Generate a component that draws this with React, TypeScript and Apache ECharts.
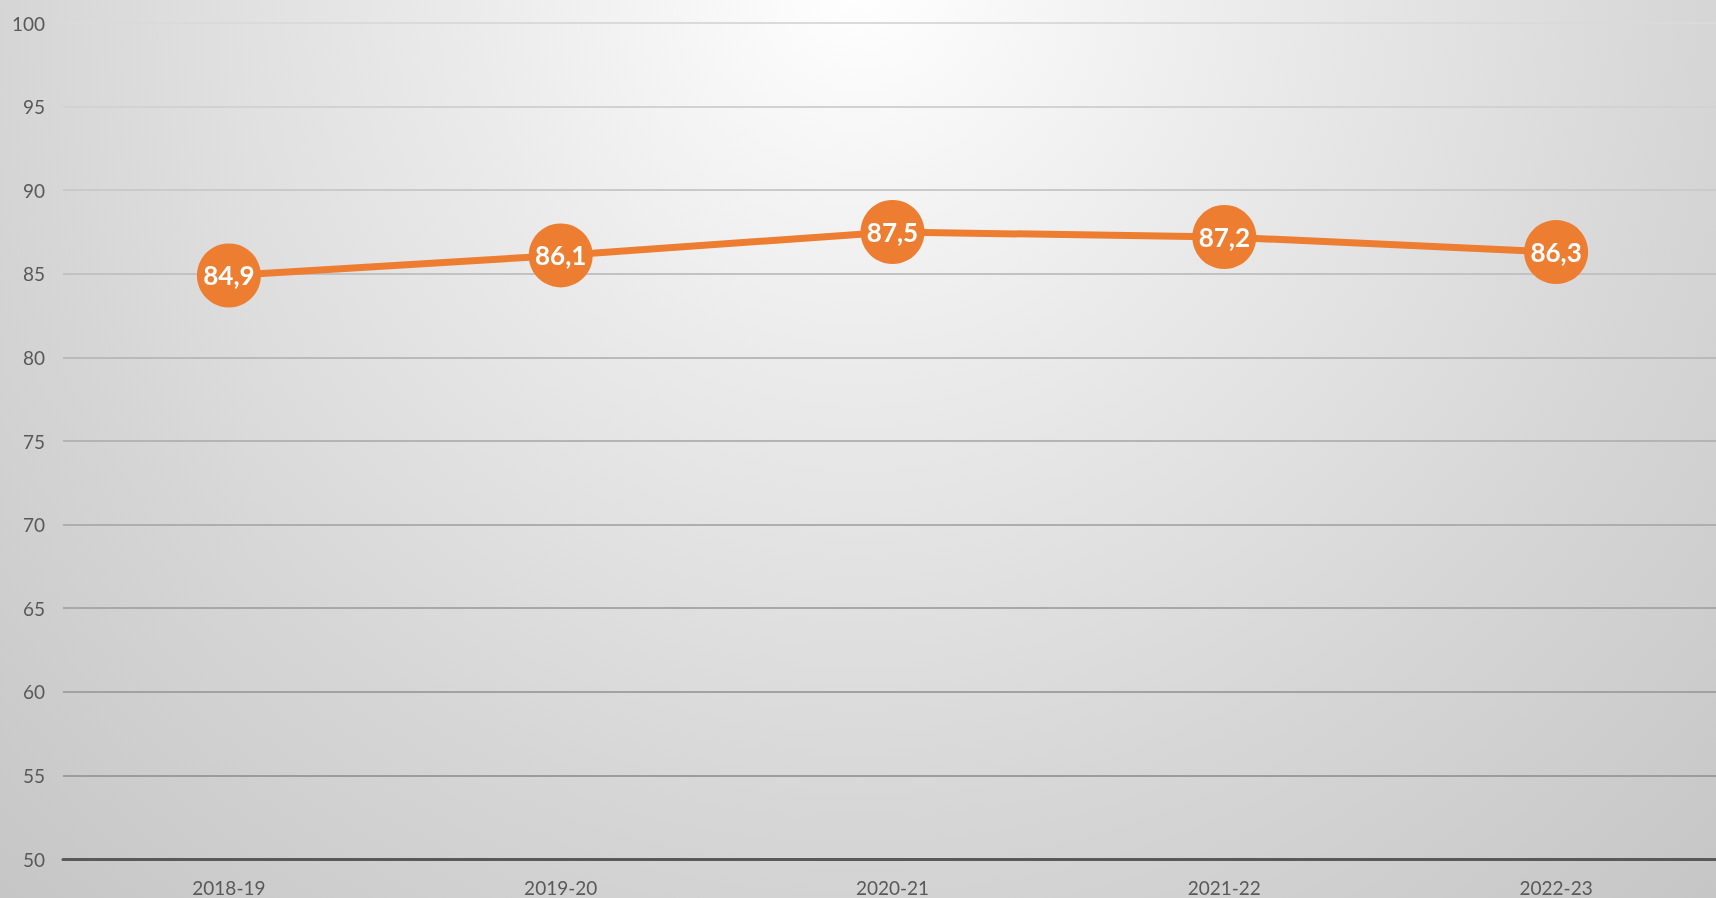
import React, { useEffect, useRef } from "react";
import * as echarts from "echarts";

const categories = ["2018-19", "2019-20", "2020-21", "2021-22", "2022-23"];
const values = [84.9, 86.1, 87.5, 87.2, 86.3];
const yMin = 50;
const yMax = 100;
const yInterval = 5;
const gridColors = [
  "#595959", "#9c9c9c", "#a2a2a2", "#a8a8a8", "#aeaeae", "#b4b4b4",
  "#bababa", "#c2c2c2", "#cacaca", "#d2d2d2", "#dadada",
];

export default function App() {
  const ref = useRef<HTMLDivElement>(null);
  useEffect(() => {
    if (!ref.current) return;
    const chart = echarts.init(ref.current, null, { renderer: "svg" });
    chart.setOption({
      animation: false,
      graphic: [
        {
          type: "rect",
          z: -10,
          silent: true,
          shape: { x: 0, y: 0, width: 1740, height: 898 },
          style: {
            fill: new echarts.graphic.RadialGradient(
              858, -20, 1300,
              [
                { offset: 0, color: "#ffffff" },
                { offset: 0.3, color: "#ebebeb" },
                { offset: 0.65, color: "#d6d6d6" },
                { offset: 1, color: "#c4c4c4" },
              ],
              true
            ),
          },
        },
      ],
      grid: { left: 63, top: 23, width: 1659, height: 836, containLabel: false },
      xAxis: {
        type: "category",
        data: categories,
        boundaryGap: true,
        axisTick: { show: false },
        axisLine: { show: true, lineStyle: { color: "#595959", width: 3 }, z: 5 },
        axisLabel: {
          color: "#595959",
          fontSize: 19,
          fontFamily: "Lato, 'Noto Sans', sans-serif",
          margin: 19,
        },
        splitLine: { show: false },
      },
      yAxis: {
        type: "value",
        min: yMin,
        max: yMax,
        interval: yInterval,
        axisLine: { show: false },
        axisTick: { show: false },
        axisLabel: {
          color: "#595959",
          fontSize: 19,
          fontFamily: "Lato, 'Noto Sans', sans-serif",
          margin: 18,
        },
        splitLine: { show: true, lineStyle: { color: gridColors, width: 2 } },
      },
      series: [
        {
          type: "line",
          data: values,
          symbol: "circle",
          symbolSize: 64,
          lineStyle: { color: "#ED7D31", width: 7 },
          itemStyle: { color: "#ED7D31" },
          z: 10,
          label: {
            show: true,
            position: "inside",
            color: "#ffffff",
            fontSize: 26,
            fontWeight: "bold",
            fontFamily: "Lato, 'Noto Sans', sans-serif",
            formatter: (p: any) => String(p.value).replace(".", ","),
          },
        },
      ],
    });
    return () => chart.dispose();
  }, []);
  return (
    <div style={{ position: "fixed", left: 0, top: 0, width: 1716, height: 898, overflow: "hidden" }}>
      <div ref={ref} style={{ width: 1740, height: 898 }} />
    </div>
  );
}
